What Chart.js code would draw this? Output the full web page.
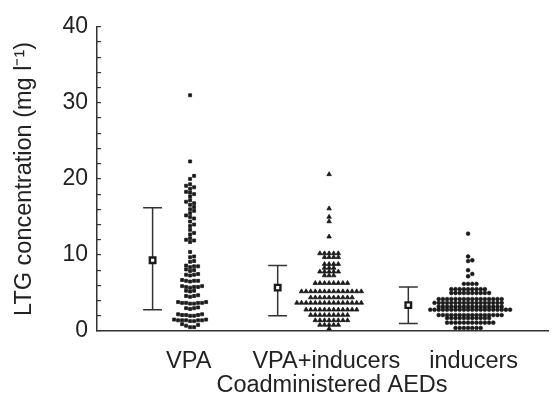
<!DOCTYPE html>
<html><head><meta charset="utf-8">
<script src="https://cdn.jsdelivr.net/npm/chart.js@4/dist/chart.umd.min.js"></script>
<style>html,body{margin:0;padding:0;background:#fff}canvas{display:block}</style>
</head><body>
<canvas id="c" width="559" height="397"></canvas>
<script>
// ---------------- data ----------------
const categories = ['VPA', 'VPA+inducers', 'inducers'];
const yTickLabels = ['0', '10', '20', '30', '40'];
const xTitle = 'Coadministered AEDs';
const yTitle = 'LTG concentration (mg l\u207B\u00B9)';

// LTG concentration (mg/l), one entry per patient
const vpaValues = [
  31.0, 22.3,
  20.4, 20.0, 19.3, 19.1, 18.9, 18.7, 18.3, 18.2, 18.0, 17.7, 17.2, 17.0, 16.8, 16.6,
  16.3, 16.0, 15.8, 15.5, 15.2, 15.0, 14.8, 14.4, 14.0, 13.8, 13.3, 12.9, 12.7, 12.2,
  12.0, 11.9, 11.7, 10.4,
  9.8, 9.7, 9.2, 9.1, 8.6, 8.5, 8.4, 8.5, 8.0, 8.1, 7.9, 7.4, 7.5, 7.3, 7.4,
  6.6, 6.7, 6.5, 6.6, 6.6, 5.8, 5.9, 5.7, 5.8, 5.8, 5.9, 5.3, 5.2, 5.3,
  4.6, 4.7, 4.5, 4.6, 3.7, 3.8, 3.6, 3.7, 3.7, 3.8, 3.6, 3.7, 3.0, 3.1, 2.9, 3.0,
  2.1, 2.2, 2.0, 2.1, 2.1, 2.2, 2.0, 1.4, 1.5, 1.3, 1.4, 1.4, 1.5, 1.3, 1.4, 1.4,
  0.8, 0.9, 0.7, 0.5, 0.5
];
const vpaInducersValues = [
  20.6, 16.1, 15.0, 14.4, 12.4,
  10.2, 10.2, 10.2, 10.2, 10.2,
  9.7, 9.7, 9.7, 9.7,
  8.8, 8.8, 8.8, 8.8,
  8.3, 8.3, 8.3,
  7.8, 7.8, 7.8, 7.8, 7.8,
  7.3, 7.3, 7.3,
  6.3, 6.3, 6.3, 6.3, 6.3, 6.3, 6.3, 6.3,
  5.2, 5.2, 5.2, 5.2, 5.2, 5.2, 5.2, 5.2, 5.2, 5.2, 5.2, 5.2, 5.2, 5.2,
  4.4, 4.4, 4.4, 4.4, 4.4, 4.4, 4.4, 4.4, 4.4, 4.4,
  3.7, 3.7, 3.7, 3.7, 3.7, 3.7, 3.7, 3.7, 3.7, 3.7, 3.7, 3.7, 3.7, 3.7, 3.7,
  2.8, 2.8, 2.8, 2.8, 2.8, 2.8, 2.8, 2.8, 2.8, 2.8, 2.8, 2.8,
  2.1, 2.1, 2.1, 2.1, 2.1, 2.1, 2.1, 2.1, 2.1,
  1.4, 1.4, 1.4, 1.4, 1.4, 1.4, 1.4, 1.4,
  0.8, 0.8, 0.8, 0.8, 0.8,
  0.3
];
const inducersValues = [
  12.8,
  9.8, 9.3, 9.2,
  8.0, 7.5, 7.2,
  6.2, 6.2, 6.2, 6.2,
  5.5, 5.5, 5.5, 5.5, 5.5, 5.5, 5.5, 5.5, 5.5,
  5.0, 5.0, 5.0, 5.0, 5.0, 5.0, 5.0, 5.0, 5.0, 5.0,
  4.2, 4.2, 4.2, 4.2, 4.2, 4.2, 4.2, 4.2, 4.2, 4.2, 4.2, 4.2, 4.2, 4.2, 4.2, 4.2,
  3.7, 3.7, 3.7, 3.7, 3.7, 3.7, 3.7, 3.7, 3.7, 3.7, 3.7, 3.7, 3.7, 3.7, 3.7, 3.7, 3.7,
  3.2, 3.2, 3.2, 3.2, 3.2, 3.2, 3.2, 3.2, 3.2, 3.2, 3.2, 3.2, 3.2, 3.2, 3.2, 3.2,
  2.8, 2.8, 2.8, 2.8, 2.8, 2.8, 2.8, 2.8, 2.8, 2.8, 2.8, 2.8, 2.8, 2.8, 2.8, 2.8, 2.8, 2.8, 2.8, 2.8,
  2.1, 2.1, 2.1, 2.1, 2.1, 2.1, 2.1, 2.1, 2.1, 2.1, 2.1, 2.1, 2.1, 2.1, 2.1, 2.1,
  1.7, 1.7, 1.7, 1.7, 1.7, 1.7, 1.7, 1.7, 1.7, 1.7, 1.7,
  1.1, 1.1, 1.1, 1.1, 1.1, 1.1, 1.1, 1.1, 1.1, 1.1, 1.1, 1.1,
  0.4, 0.4, 0.4, 0.4, 0.4, 0.4, 0.4
];
// summary marker (mean) and error bar ends
const meanValues  = [9.3, 5.7, 3.4];
const lowerValues = [2.8, 2.0, 1.0];
const upperValues = [16.2, 8.6, 5.8];

// ---------------- layout / style ----------------
const GROUP_X   = [1, 2, 3];            // swarm centres on the x scale
const SUMMARY_X = [0.73, 1.63, 2.57];   // mean +/- bar positions
const LABEL_X   = [0.99, 1.98, 3.04];   // category label positions
const CAP_HALF  = 0.068;
const X_TITLE_POS = { x: 332, y: 386 };
const INK = '#1a1a1a';
const AXIS = '#333333';
const TEXT = '#222222';
const FONT = "'Liberation Sans', Arial, Helvetica, sans-serif";

const groups = [
  { values: vpaValues,         style: 'rect',     radius: 2.1, border: 0.8, step: 4.0, dmin: 3.5 },
  { values: vpaInducersValues, style: 'triangle', radius: 2.6, border: 0.8, step: 4.6, dmin: 3.5 },
  { values: inducersValues,    style: 'circle',   radius: 1.9, border: 0.6, step: 4.2, dmin: 3.0 }
];

const datasets = [];
// mean markers (drawn on top)
datasets.push({
  type: 'scatter', order: 0,
  data: meanValues.map((m, i) => ({ x: SUMMARY_X[i], y: m })),
  pointStyle: 'rect', pointRadius: 3.9, borderWidth: 2.4,
  borderColor: INK, backgroundColor: '#ffffff'
});
// error bars
meanValues.forEach((m, i) => {
  const x = SUMMARY_X[i], lo = lowerValues[i], hi = upperValues[i];
  datasets.push({
    type: 'scatter', order: 2, showLine: true, spanGaps: false,
    data: [
      { x: x - CAP_HALF, y: hi }, { x: x + CAP_HALF, y: hi }, { x: x, y: null },
      { x: x, y: hi }, { x: x, y: lo }, { x: x, y: null },
      { x: x - CAP_HALF, y: lo }, { x: x + CAP_HALF, y: lo }
    ],
    borderColor: AXIS, borderWidth: 1.5, pointRadius: 0, tension: 0
  });
});
// individual values
const swarmStart = datasets.length;
groups.forEach((g, gi) => {
  datasets.push({
    type: 'scatter', order: 1,
    data: g.values.map(v => ({ x: GROUP_X[gi], y: v })),
    pointStyle: g.style, pointRadius: g.radius, borderWidth: g.border,
    borderColor: INK, backgroundColor: INK
  });
});

// x-axis title drawn as text, centred where the reference places it
const xAxisTitle = {
  id: 'xAxisTitle',
  afterDraw(chart) {
    const ctx = chart.ctx;
    ctx.save();
    ctx.fillStyle = TEXT;
    ctx.font = '23.5px ' + FONT;
    ctx.textAlign = 'center';
    ctx.textBaseline = 'middle';
    ctx.fillText(xTitle, X_TITLE_POS.x, X_TITLE_POS.y);
    ctx.restore();
  }
};

Chart.defaults.font.family = FONT;
Chart.defaults.color = TEXT;

const chart = new Chart(document.getElementById('c'), {
  type: 'scatter',
  data: { datasets },
  plugins: [xAxisTitle],
  options: {
    responsive: false, animation: false, devicePixelRatio: 1,
    layout: { padding: { top: 26, right: 11, bottom: 0, left: 0 } },
    plugins: { legend: { display: false }, tooltip: { enabled: false } },
    scales: {
      x: {
        type: 'linear', min: 0.33, max: 3.575,
        afterBuildTicks: s => { s.ticks = LABEL_X.map(v => ({ value: v })); },
        afterFit: s => { s.height = 66; },
        ticks: { autoSkip: false, maxRotation: 0, padding: 8, color: TEXT,
                 font: { size: 23.5 }, callback: (v, i) => categories[i] },
        grid: { display: false },
        border: { display: true, color: AXIS, width: 1.5 },
        title: { display: false }
      },
      y: {
        min: 0, max: 40,
        afterFit: s => { s.width = 97; },
        ticks: { stepSize: 2, autoSkip: false, padding: 13, color: TEXT, font: { size: 23 },
                 callback: v => (yTickLabels.includes(String(v)) ? String(v) : '') },
        grid: { display: true, drawOnChartArea: false, drawTicks: true, tickLength: -4,
                color: AXIS, lineWidth: 1.2 },
        border: { display: true, color: AXIS, width: 1.5 },
        title: { display: true, text: yTitle, color: TEXT,
                 font: { size: 23.5, lineHeight: 1 }, padding: { top: 13, bottom: 0 } }
      }
    }
  }
});

// beeswarm placement of the individual values using the chart's own scales
function layoutSwarm() {
  const xs = chart.scales.x, ys = chart.scales.y;
  const pxPerX = xs.getPixelForValue(1) - xs.getPixelForValue(0);
  groups.forEach((g, gi) => {
    const placed = [];
    const pts = new Array(g.values.length);
    const order = g.values.map((v, i) => i).sort((a, b) => g.values[a] - g.values[b]);
    order.forEach(i => {
      const py = ys.getPixelForValue(g.values[i]);
      for (let k = 0; k < 400; k++) {
        const slot = k === 0 ? 0 : (k % 2 ? (k + 1) / 2 : -k / 2);
        const ok = placed.every(p => p.slot !== slot || Math.abs(p.py - py) >= g.dmin);
        if (ok) {
          placed.push({ slot, py });
          pts[i] = { x: GROUP_X[gi] + slot * g.step / pxPerX, y: g.values[i] };
          break;
        }
      }
    });
    chart.data.datasets[swarmStart + gi].data = pts;
  });
  chart.update('none');
}
layoutSwarm();
</script>
</body></html>
